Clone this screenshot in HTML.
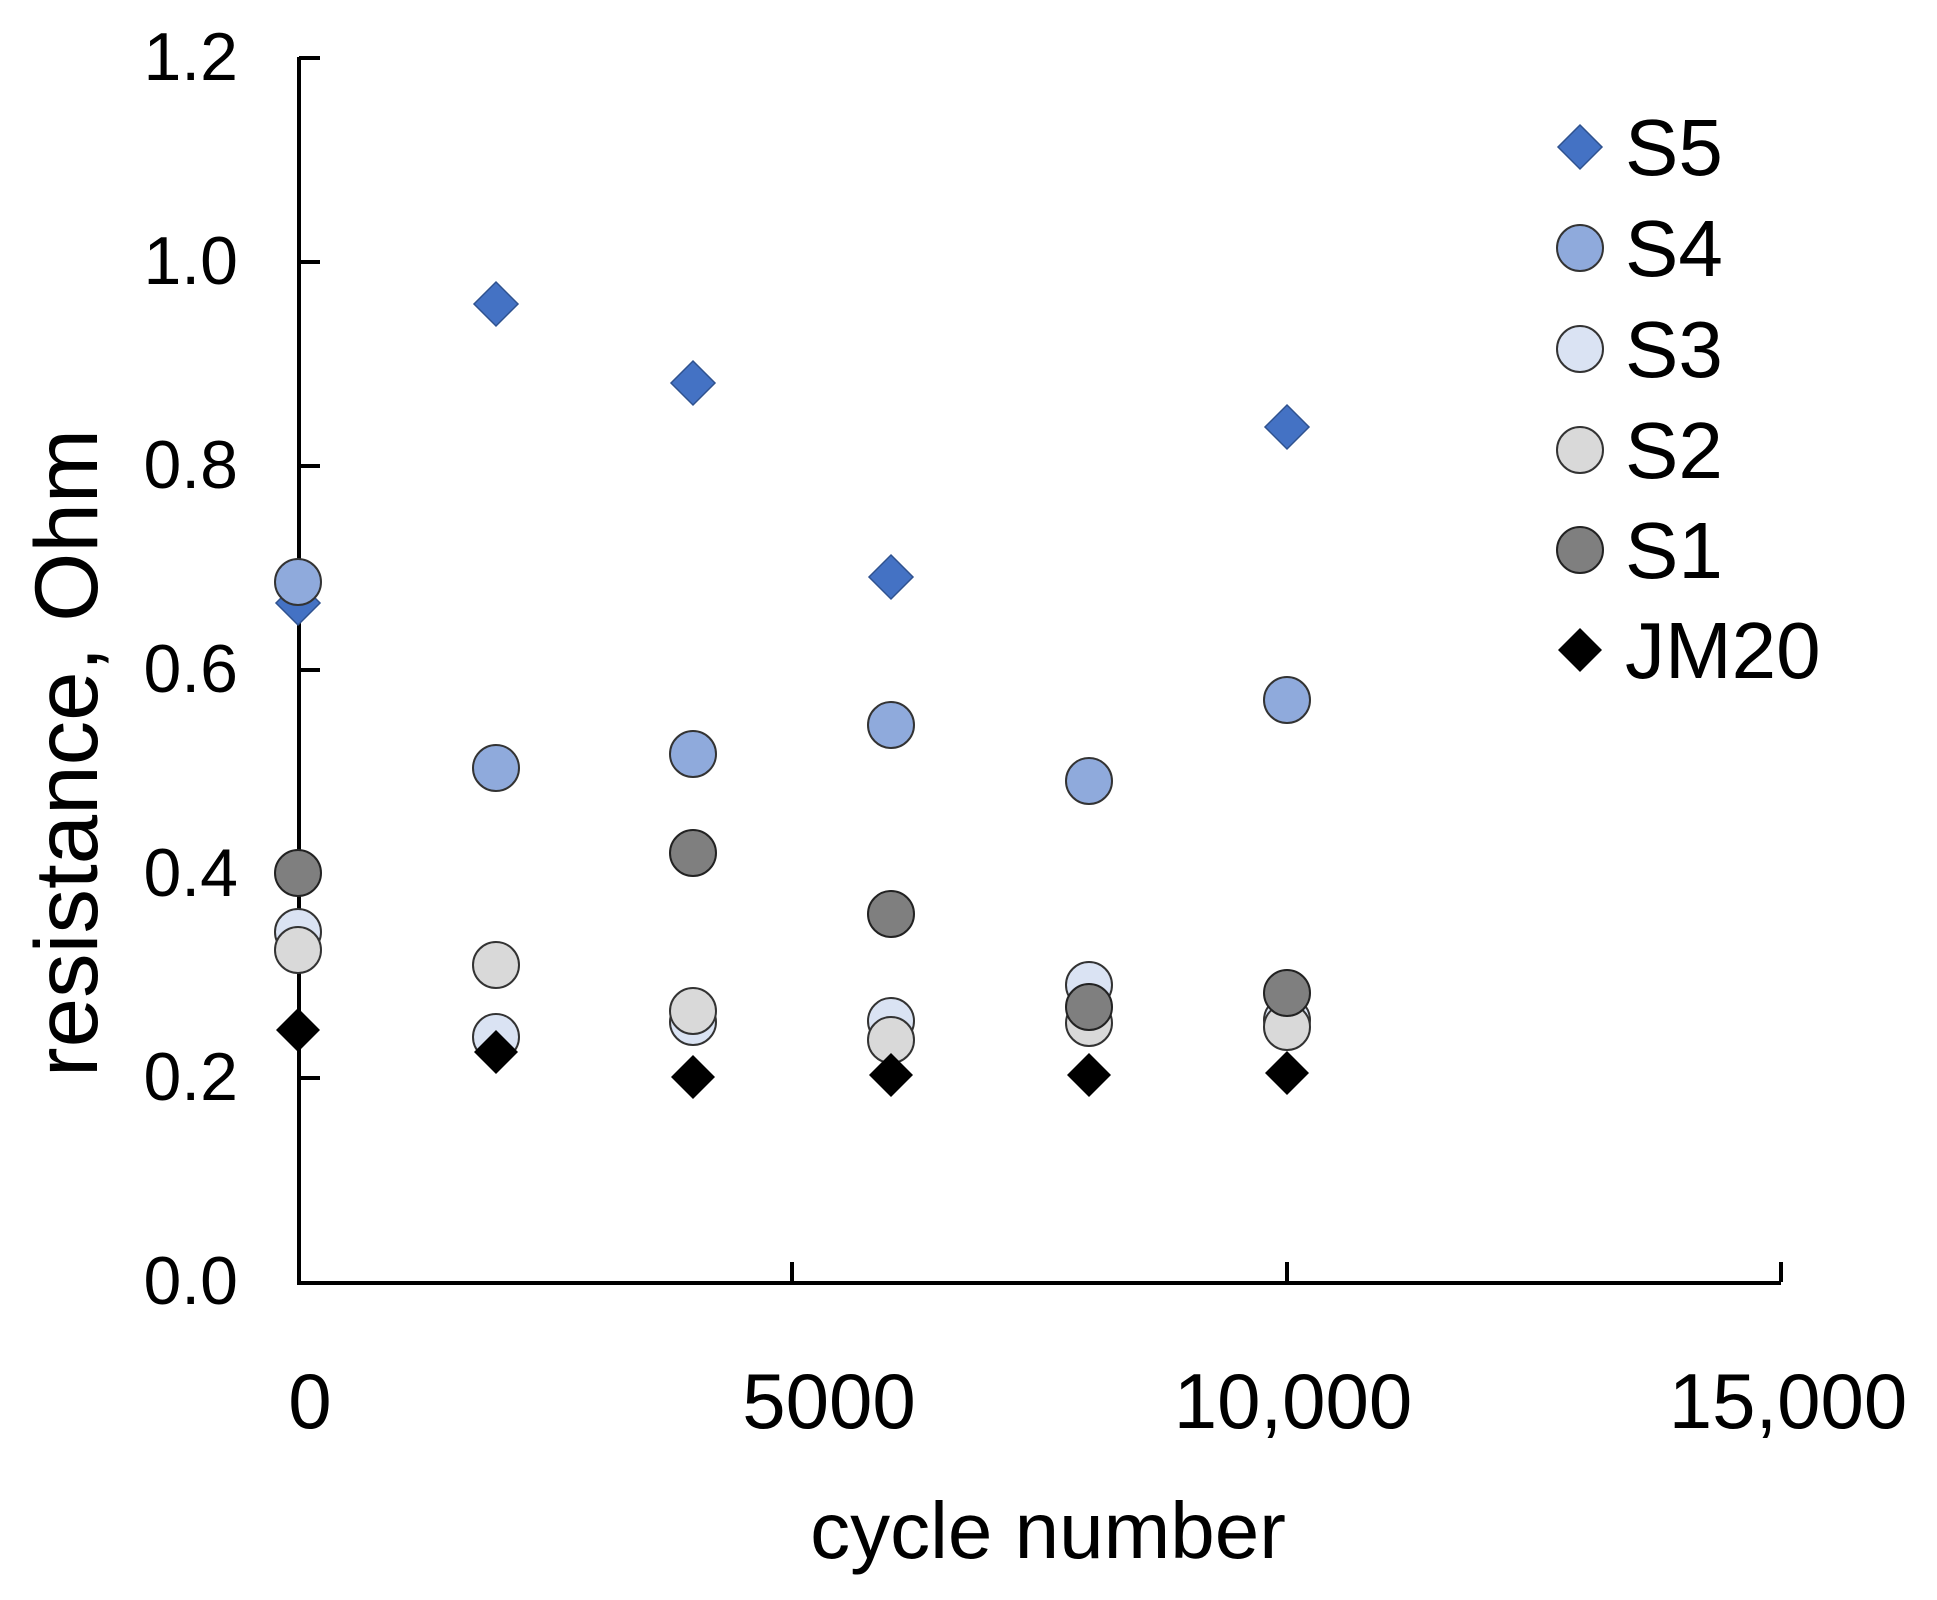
<!DOCTYPE html>
<html><head><meta charset="utf-8"><style>html,body{margin:0;padding:0;background:#fff}svg{display:block}text{font-family:"Liberation Sans",Arial,sans-serif;fill:#000}</style></head>
<body>
<svg width="1937" height="1600" viewBox="0 0 1937 1600" xmlns="http://www.w3.org/2000/svg">
<g stroke="#000" stroke-width="4" fill="none">
<path d="M299 57 V1283 H1781"/>
<path d="M299 58 H320 M299 262 H320 M299 466 H320 M299 670 H320 M299 874 H320 M299 1078 H320"/>
<path d="M792 1282 V1262 M1287 1282 V1262 M1781 1282 V1262"/>
</g>
<g font-size="68" text-anchor="end">
<text x="238" y="80">1.2</text><text x="238" y="284">1.0</text><text x="238" y="488">0.8</text>
<text x="238" y="692">0.6</text><text x="238" y="896">0.4</text><text x="238" y="1100">0.2</text><text x="238" y="1304">0.0</text>
</g>
<g font-size="78" text-anchor="middle">
<text x="310" y="1428">0</text><text x="829" y="1428">5000</text><text x="1293" y="1428">10,000</text><text x="1788" y="1428">15,000</text>
</g>
<text x="1048" y="1558" font-size="80" text-anchor="middle">cycle number</text>
<text transform="translate(97,753) rotate(-90)" font-size="89" text-anchor="middle">resistance, Ohm</text>
<defs>
<path id="d" d="M0 -22 L22 0 L0 22 L-22 0 Z"/>
</defs>
<g fill="#4472c4" stroke="#2f528f" stroke-width="1.5">
<use href="#d" x="298" y="603"/><use href="#d" x="496" y="304"/><use href="#d" x="693" y="383"/><use href="#d" x="891" y="577"/><use href="#d" x="1287" y="427"/>
</g>
<g fill="#8faadc" stroke="#333" stroke-width="2">
<circle cx="298" cy="582" r="23"/><circle cx="496" cy="768" r="23"/><circle cx="693" cy="754" r="23"/><circle cx="891" cy="725" r="23"/><circle cx="1089" cy="781" r="23"/><circle cx="1287" cy="700" r="23"/>
</g>
<g fill="#dae3f3" stroke="#333" stroke-width="2">
<circle cx="298" cy="932" r="23"/><circle cx="496" cy="1037" r="23"/><circle cx="693" cy="1022" r="23"/><circle cx="891" cy="1021" r="23"/><circle cx="1089" cy="985" r="23"/><circle cx="1287" cy="1020" r="23"/>
</g>
<g fill="#d9d9d9" stroke="#333" stroke-width="2">
<circle cx="298" cy="950" r="23"/><circle cx="496" cy="965" r="23"/><circle cx="693" cy="1011" r="23"/><circle cx="891" cy="1040" r="23"/><circle cx="1089" cy="1023" r="23"/><circle cx="1287" cy="1027" r="23"/>
</g>
<g fill="#7f7f7f" stroke="#222" stroke-width="2">
<circle cx="298" cy="873" r="23"/><circle cx="693" cy="853" r="23"/><circle cx="891" cy="914" r="23"/><circle cx="1089" cy="1007" r="23"/><circle cx="1287" cy="993" r="23"/>
</g>
<g fill="#000">
<use href="#d" x="298" y="1030"/><use href="#d" x="496" y="1052"/><use href="#d" x="693" y="1077"/><use href="#d" x="891" y="1075"/><use href="#d" x="1089" y="1075"/><use href="#d" x="1287" y="1073"/>
</g>
<g>
<use href="#d" x="1580" y="147" fill="#4472c4" stroke="#2f528f" stroke-width="1.5"/>
<circle cx="1580" cy="248" r="23" fill="#8faadc" stroke="#333" stroke-width="2"/>
<circle cx="1580" cy="349" r="23" fill="#dae3f3" stroke="#333" stroke-width="2"/>
<circle cx="1580" cy="450" r="23" fill="#d9d9d9" stroke="#333" stroke-width="2"/>
<circle cx="1580" cy="550" r="23" fill="#7f7f7f" stroke="#222" stroke-width="2"/>
<use href="#d" x="1580" y="650" fill="#000"/>
</g>
<g font-size="80">
<text x="1625" y="175">S5</text><text x="1625" y="276">S4</text><text x="1625" y="377">S3</text>
<text x="1625" y="478">S2</text><text x="1625" y="578">S1</text><text x="1625" y="678">JM20</text>
</g>
</svg>
</body></html>
